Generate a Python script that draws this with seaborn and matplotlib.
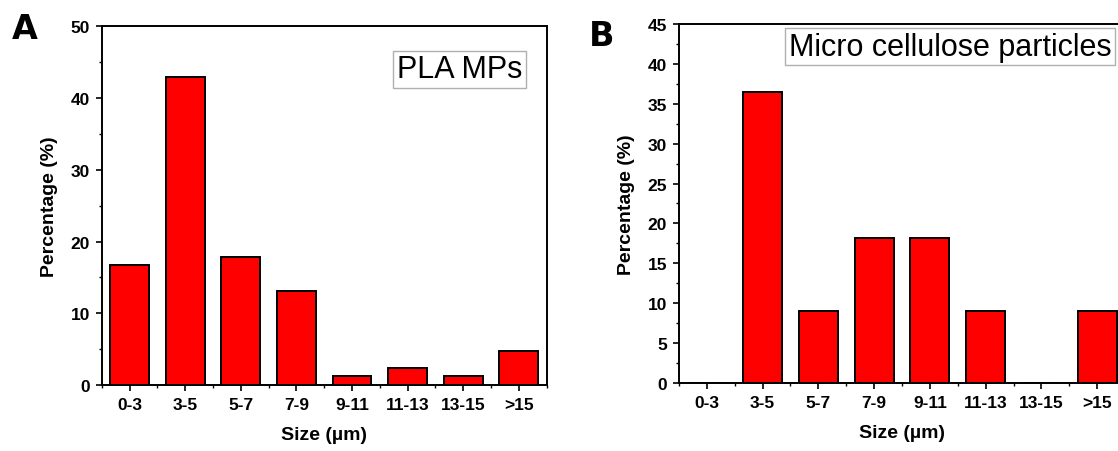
import numpy as np
import seaborn as sns
import matplotlib.pyplot as plt
from matplotlib.ticker import MultipleLocator

# size classes and percentages
categories = ['0-3', '3-5', '5-7', '7-9', '9-11', '11-13', '13-15', '>15']
pla_pct = [16.7, 42.9, 17.9, 13.1, 1.2, 2.4, 1.2, 4.8]
cellulose_pct = [0.0, 36.4, 9.1, 18.2, 18.2, 9.1, 0.0, 9.1]

sns.set_style('ticks')
plt.rcParams['font.family'] = ['Liberation Sans', 'DejaVu Sans']
plt.rcParams['text.color'] = 'black'
plt.rcParams['axes.labelcolor'] = 'black'
plt.rcParams['xtick.color'] = 'black'
plt.rcParams['ytick.color'] = 'black'


def draw_panel(ax, values, ymax, major, label_text, label_x, label_y, label_ha):
    sns.barplot(x=categories, y=values, color='#ff0000', saturation=1,
                edgecolor='black', linewidth=1.4, width=0.7, ax=ax)
    ax.set_xlim(-0.5, 7.5)
    ax.set_ylim(0, ymax)
    ax.yaxis.set_major_locator(MultipleLocator(major))
    ax.yaxis.set_minor_locator(MultipleLocator(major / 2))
    ax.xaxis.set_minor_locator(MultipleLocator(1, offset=0.5))
    for side in ['top', 'right', 'left', 'bottom']:
        ax.spines[side].set_visible(True)
        ax.spines[side].set_linewidth(1.4)
        ax.spines[side].set_color('black')
    ax.tick_params(which='major', direction='out', length=4.5, width=1.2,
                   labelsize=12.5, pad=4, top=False, right=False)
    ax.tick_params(which='minor', direction='out', length=2.5, width=1.0,
                   top=False, right=False)
    for lbl in ax.get_xticklabels() + ax.get_yticklabels():
        lbl.set_fontweight('bold')
    ax.set_xlabel('Size (µm)', fontsize=14, fontweight='bold', labelpad=10)
    ax.set_ylabel('Percentage (%)', fontsize=14, fontweight='bold', labelpad=9)
    ax.text(label_x, label_y, label_text,
            transform=ax.transAxes, fontsize=22, ha=label_ha, va='center',
            bbox=dict(boxstyle='square,pad=0.12', facecolor='white',
                      edgecolor='#b0b0b0', linewidth=1.0))


fig = plt.figure(figsize=(11.18, 4.52), dpi=100)
ax_a = fig.add_axes([0.091, 0.146, 0.398, 0.7936])
ax_b = fig.add_axes([0.6073, 0.1498, 0.399, 0.7956])

draw_panel(ax_a, pla_pct, 50, 10, 'PLA MPs', 0.8045, 0.88, 'center')
draw_panel(ax_b, cellulose_pct, 45, 5, 'Micro cellulose particles', 0.2466, 0.936, 'left')

fig.text(0.022, 0.935, 'A', fontsize=24, fontweight='bold', family=['DejaVu Sans'],
         ha='center', va='center')
fig.text(0.538, 0.92, 'B', fontsize=24, fontweight='bold', family=['DejaVu Sans'],
         ha='center', va='center')

fig.savefig('out.png', dpi=100)
